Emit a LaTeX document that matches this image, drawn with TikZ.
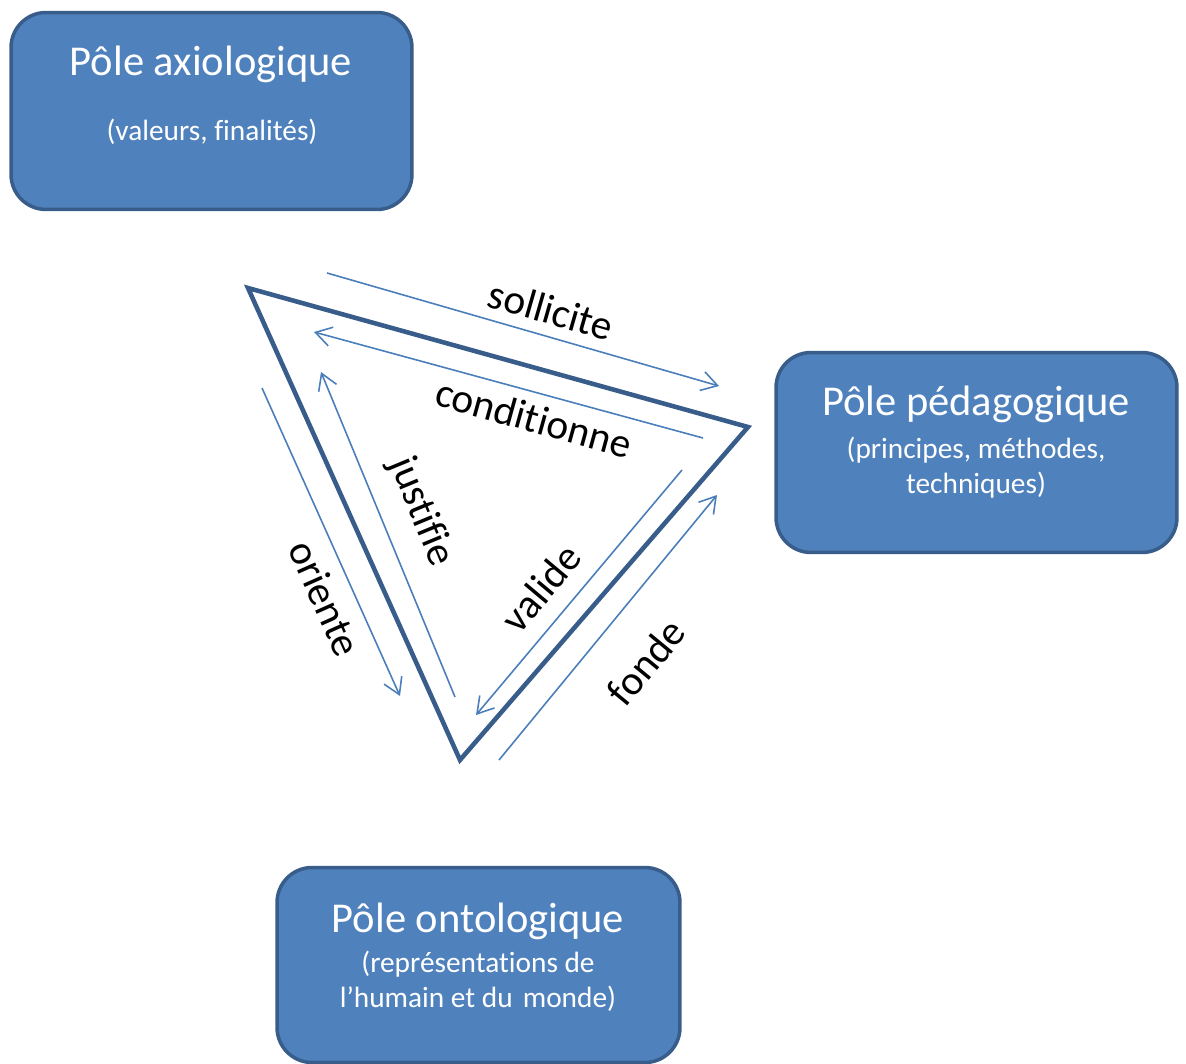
\documentclass[tikz,border=0pt]{standalone}
\usepackage{fontspec}
\setmainfont{Carlito}[Ligatures=NoCommon]
\usetikzlibrary{arrows.meta}
\definecolor{boxfill}{HTML}{4F81BD}
\definecolor{boxedge}{HTML}{385D8A}
\definecolor{arrowblue}{HTML}{4A7EBB}
\begin{document}
\begin{tikzpicture}[x=0.02cm,y=-0.02cm,
  pole/.style={draw=boxedge,fill=boxfill,line width=2pt,rounded corners=0.7cm,inner sep=0pt},
  title/.style={text=white,font=\fontsize{24.2}{28}\selectfont,anchor=base,inner sep=0pt},
  sub/.style={text=white,font=\fontsize{16.7}{20}\selectfont,anchor=base,inner sep=0pt},
  lbl/.style={text=black,font=\fontsize{23.6}{27}\selectfont,inner sep=0pt},
  tri/.style={draw=boxedge,line width=2.6pt,line join=miter},
  conn/.style={draw=arrowblue,line width=0.9pt,-{Straight Barb[length=9pt,width=11pt,line width=0.9pt]}}]
\useasboundingbox (0,0) rectangle (1186,1064);
% boxes
\node[pole,minimum width=8.02cm,minimum height=3.94cm] (axio) at (211.5,111) {};
\node[pole,minimum width=8.02cm,minimum height=4.0cm] (peda) at (976.5,452.5) {};
\node[pole,minimum width=8.06cm,minimum height=3.9cm] (onto) at (478.5,965) {};
% box texts
\node[title] (axioT) at (211,76) {Pôle axiologique};
\node[sub] (axioS) at (212,141) {(valeurs, finalités)};
\node[title] (pedaT) at (976,415) {Pôle pédagogique};
\node[sub] (pedaS1) at (976,458) {(principes, méthodes,};
\node[sub] (pedaS2) at (976,493) {techniques)};
\node[title] (ontoT) at (478,932) {Pôle ontologique};
\node[sub] (ontoS1) at (478,972) {(représentations de};
\node[sub] (ontoS2) at (478,1007) {l’humain et du\hspace{0.12em} monde)};
% triangle
\coordinate (A) at (248,288);
\coordinate (B) at (748,427);
\coordinate (C) at (460,760);
\draw[tri] (A) -- (B) -- (C) -- cycle;
% connectors
\coordinate (s1) at (327,273); \coordinate (s2) at (719,386);
\coordinate (c1) at (703,438); \coordinate (c2) at (314,332);
\coordinate (j1) at (455,697); \coordinate (j2) at (321,372);
\coordinate (o1) at (262,388); \coordinate (o2) at (400,696);
\coordinate (v1) at (682,470); \coordinate (v2) at (476,715);
\coordinate (f1) at (499,760); \coordinate (f2) at (717,495);
\draw[conn] (s1) -- (s2);
\draw[conn] (c1) -- (c2);
\draw[conn] (j1) -- (j2);
\draw[conn] (o1) -- (o2);
\draw[conn] (v1) -- (v2);
\draw[conn] (f1) -- (f2);
% labels
\node[lbl,rotate=-16] (lsol) at (551,310) {sollicite};
\node[lbl,rotate=-15.5] (lcon) at (534,418) {conditionne};
\node[lbl,rotate=-67.5] (ljus) at (421,512) {justifie};
\node[lbl,rotate=-66] (lori) at (325,598) {oriente};
\node[lbl,rotate=50] (lval) at (541,588) {valide};
\node[lbl,rotate=50.5] (lfon) at (646,662) {fonde};
\end{tikzpicture}
\end{document}
